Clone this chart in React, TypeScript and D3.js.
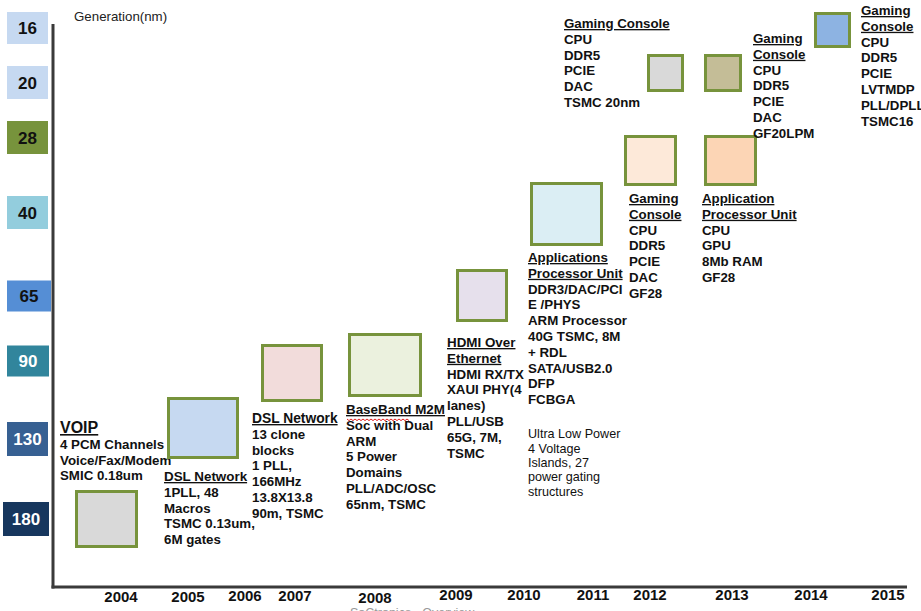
import React from "react";
import * as d3 from "d3";

// ---------- data ----------
const generations = ["16", "20", "28", "40", "65", "90", "130", "180"];
const years = ["2004", "2005", "2006", "2007", "2008", "2009", "2010", "2011", "2012", "2013", "2014", "2015"];

const projectYears = ["2004", "2005", "2007", "2008", "2009", "2010", "2012", "2013", "2012", "2013", "2014"];
const projectGenerations = ["180", "130", "90", "65", "65", "40", "28", "28", "20", "20", "16"];
const projectTitles: string[][] = [
  ["VOIP"],
  ["DSL Network"],
  ["DSL Network"],
  ["BaseBand M2M"],
  ["HDMI Over", "Ethernet"],
  ["Applications", "Processor Unit"],
  ["Gaming", "Console"],
  ["Application", "Processor Unit"],
  ["Gaming Console"],
  ["Gaming", "Console"],
  ["Gaming", "Console"],
];
const projectDetails: string[][] = [
  ["4 PCM Channels", "Voice/Fax/Modem", "SMIC 0.18um"],
  ["1PLL, 48", "Macros", "TSMC 0.13um,", "6M gates"],
  ["13 clone", "blocks", "1 PLL,", "166MHz", "13.8X13.8", "90m, TSMC"],
  ["Soc with Dual", "ARM", "5 Power", "Domains", "PLL/ADC/OSC", "65nm, TSMC"],
  ["HDMI RX/TX", "XAUI PHY(4", "lanes)", "PLL/USB", "65G, 7M,", "TSMC"],
  ["DDR3/DAC/PCI", "E /PHYS", "ARM Processor", "40G TSMC, 8M", "+ RDL", "SATA/USB2.0", "DFP", "FCBGA"],
  ["CPU", "DDR5", "PCIE", "DAC", "GF28"],
  ["CPU", "GPU", "8Mb RAM", "GF28"],
  ["CPU", "DDR5", "PCIE", "DAC", "TSMC 20nm"],
  ["CPU", "DDR5", "PCIE", "DAC", "GF20LPM"],
  ["CPU", "DDR5", "PCIE", "LVTMDP", "PLL/DPLL", "TSMC16"],
];
const projectNotes: string[][] = [
  [], [], [], [], [],
  ["Ultra Low Power", "4 Voltage", "Islands, 27", "power gating", "structures"],
  [], [], [], [], [],
];
const axisTitle = "Generation(nm)";
const footer = "SoCtronics - Overview";

// ---------- styles / layout ----------
const W = 921;
const H = 611;
const FONT = "'Liberation Sans', Arial, Helvetica, sans-serif";
const genFill: Record<string, string> = {
  "16": "#c6d9f1", "20": "#c6d9f1", "28": "#77933c", "40": "#93cddd",
  "65": "#558ed5", "90": "#31859c", "130": "#376092", "180": "#17375e",
};
const genText: Record<string, string> = {
  "16": "#111", "20": "#111", "28": "#111", "40": "#111",
  "65": "#111", "90": "#fff", "130": "#fff", "180": "#fff",
};
const projectFill = ["#d9d9d9", "#c6d9f1", "#f2dcdb", "#ebf1de", "#e6e0ec", "#dbeef4", "#fde9d9", "#fcd5b5", "#d9d9d9", "#c4bd97", "#8db3e2"];
const rowCenters = [28, 82.5, 137.5, 212.5, 296, 361, 439, 519];
const rowHeights = [32, 33, 33, 33, 31, 31, 34, 34];
const rowBoxX = [7, 7, 7, 7, 7, 7, 7, 3];
const rowBoxW = [41, 41, 41, 41, 44, 42, 41, 46];
const yearX = [121, 188, 245, 295, 375, 456, 524, 593, 650, 732, 811, 888];
const yearBase = [602, 602, 601, 601, 603, 600, 600, 600, 600, 600, 600, 600];
// outer box extents [x0, y0, x1, y1] and text anchor [x, firstBaseline]
const boxLayout = [
  [75, 490, 138, 548], [167, 397, 239, 459], [261, 344, 323, 402], [348, 333, 422, 397],
  [456, 269, 508, 322], [530, 182, 603, 246], [624, 135, 677, 186], [704, 135, 757, 186],
  [647, 54, 684, 92], [704, 54, 742, 92], [814, 12, 851, 48],
];
const textLayout = [
  [60, 433], [164, 481], [252, 423], [346, 414], [447, 347], [528, 262],
  [629, 203], [702, 203], [564, 28], [753, 43], [861, 15],
];
const titleSizes = [16, 13.4, 13.8, 13.4, 13.4, 13.3, 13.3, 13.3, 13.3, 13.3, 13.3];
const LINE = 15.8;
const AXIS_X = 53;
const AXIS_TOP = 24;
const AXIS_Y = 587;
const AXIS_RIGHT = 907;

export default function App() {
  const yRow = d3.scaleOrdinal<string, number>().domain(generations).range(rowCenters);
  const hRow = d3.scaleOrdinal<string, number>().domain(generations).range(rowHeights);
  const xRowBox = d3.scaleOrdinal<string, number>().domain(generations).range(rowBoxX);
  const wRowBox = d3.scaleOrdinal<string, number>().domain(generations).range(rowBoxW);
  const xYear = d3.scaleOrdinal<string, number>().domain(years).range(yearX);
  const yYear = d3.scaleOrdinal<string, number>().domain(years).range(yearBase);

  // red spell-check squiggle under "BaseBand"
  const sq: [number, number][] = d3.range(0, 32).map((i) => [textLayout[3][0] + 1 + i * 2, textLayout[3][1] + 5 + (i % 2 === 0 ? 0 : 1.6)]);
  const squiggle = d3.line()(sq) || "";

  return (
    <svg width={W} height={H} viewBox={`0 0 ${W} ${H}`} style={{ position: "absolute", left: 0, top: 0, background: "#fff" }} fontFamily={FONT}>
      <rect width={W} height={H} fill="#fff" />
      {/* generation labels */}
      {generations.map((g) => (
        <g key={g}>
          <rect x={xRowBox(g)} y={yRow(g) - hRow(g) / 2} width={wRowBox(g)} height={hRow(g)} fill={genFill[g]} />
          <text x={xRowBox(g) + wRowBox(g) / 2} y={yRow(g) + 6} textAnchor="middle" fontSize={17} fontWeight="bold" fill={genText[g]}>{g}</text>
        </g>
      ))}
      <text x={74} y={21} fontSize={13.3} fill="#222">{axisTitle}</text>
      {/* axes */}
      <line x1={AXIS_X} y1={AXIS_TOP} x2={AXIS_X} y2={AXIS_Y + 1.5} stroke="#3a3a3a" strokeWidth={3} />
      <line x1={AXIS_X - 1.5} y1={AXIS_Y} x2={AXIS_RIGHT} y2={AXIS_Y} stroke="#3a3a3a" strokeWidth={3} />
      {years.map((y) => (
        <text key={y} x={xYear(y)} y={yYear(y)} textAnchor="middle" fontSize={15} fontWeight="bold" fill="#111">{y}</text>
      ))}
      {/* projects */}
      {projectTitles.map((title, i) => {
        const [x0, y0, x1, y1] = boxLayout[i];
        const [tx, ty] = textLayout[i];
        const details = projectDetails[i];
        const notes = projectNotes[i];
        const lastBase = ty + (title.length + details.length - 1) * LINE;
        return (
          <g key={i} data-year={projectYears[i]} data-gen={projectGenerations[i]}>
            <rect x={x0 + 1.5} y={y0 + 1.5} width={x1 - x0 - 3} height={y1 - y0 - 3} fill={projectFill[i]} stroke="#77933c" strokeWidth={3} />
            {title.map((t, j) => (
              <text key={"t" + j} x={tx} y={ty + j * LINE} fontSize={titleSizes[i]} fontWeight="bold" fill="#111" style={{ textDecoration: "underline" }}>{t}</text>
            ))}
            {details.map((t, j) => (
              <text key={"d" + j} x={tx} y={ty + (title.length + j) * LINE} fontSize={13.3} fontWeight="bold" fill="#111">{t}</text>
            ))}
            {notes.map((t, j) => (
              <text key={"n" + j} x={tx} y={lastBase + 34 + j * 14.4} fontSize={12.6} fill="#111">{t}</text>
            ))}
          </g>
        );
      })}
      <path d={squiggle} fill="none" stroke="#e02020" strokeWidth={1} />
      <text x={350} y={617} fontSize={12.5} fill="#999">{footer}</text>
    </svg>
  );
}
